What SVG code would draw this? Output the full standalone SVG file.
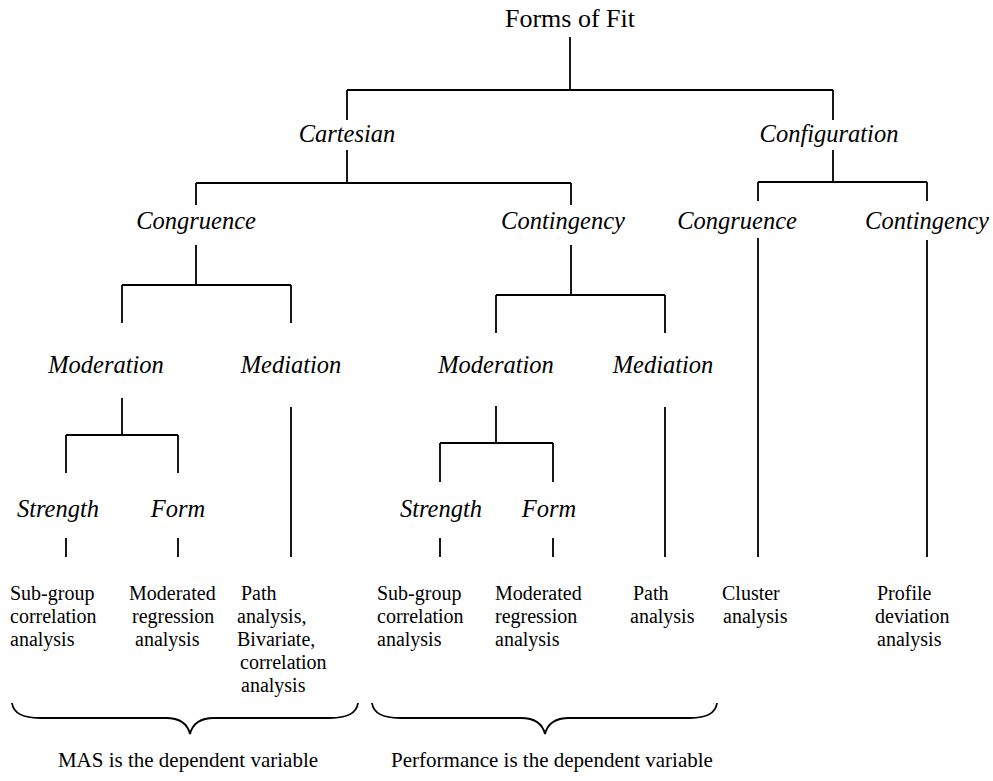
<svg xmlns="http://www.w3.org/2000/svg" width="993" height="781" viewBox="0 0 993 781">
<style>
text{font-family:"Liberation Serif","Times New Roman",serif;fill:#000}
.t{font-size:26px;text-anchor:middle}
.i{font-size:24.5px;font-style:italic;text-anchor:middle}
.l{font-size:20px}
.b{font-size:21px;text-anchor:middle}
#conn path{fill:none;stroke:#000;stroke-width:1.8}
</style>
<rect width="993" height="781" fill="#fff"/>
<g id="conn">
<path d="M570,37V90M347,90H833M347,90V120M833,90V120"/>
<path d="M347,150V183M196,183H571M196,183V205M571,183V205"/>
<path d="M833,150V182M758,182H927M758,182V201M927,182V201"/>
<path d="M758,238V557M927,240V557"/>
<path d="M196,245V285M122,285H291M122,285V323M291,285V323"/>
<path d="M571,245V295M496,295H665M496,295V333M665,295V333"/>
<path d="M122,398V435M66,435H178M66,435V473M178,435V473"/>
<path d="M496,406V443M440,443H553M440,443V482M553,443V482"/>
<path d="M66,538V557M178,538V557M440,538V557M553,538V557"/>
<path d="M291,407V557M665,407V557"/>
<path d="M12,703Q14,718 40,718L166,718Q186,718 190,734Q194,718 214,718L330,718Q356,718 358,703"/>
<path d="M372,703Q374,718 400,718L521,718Q541,718 545,734Q549,718 569,718L690,718Q715,718 717,703"/>
</g>
<g id="n-root"><text class="t" x="570" y="27">Forms of Fit</text></g>
<g id="n-cartesian"><text class="i" x="347" y="142">Cartesian</text></g>
<g id="n-configuration"><text class="i" x="829" y="142">Configuration</text></g>
<g id="n-cong1"><text class="i" x="196" y="229">Congruence</text></g>
<g id="n-cont1"><text class="i" x="563" y="229">Contingency</text></g>
<g id="n-cong2"><text class="i" x="737" y="229">Congruence</text></g>
<g id="n-cont2"><text class="i" x="927" y="229">Contingency</text></g>
<g id="n-mod1"><text class="i" x="106" y="373">Moderation</text></g>
<g id="n-med1"><text class="i" x="291" y="373">Mediation</text></g>
<g id="n-mod2"><text class="i" x="496" y="373">Moderation</text></g>
<g id="n-med2"><text class="i" x="663" y="373">Mediation</text></g>
<g id="n-str1"><text class="i" x="58" y="517">Strength</text></g>
<g id="n-form1"><text class="i" x="178" y="517">Form</text></g>
<g id="n-str2"><text class="i" x="441" y="517">Strength</text></g>
<g id="n-form2"><text class="i" x="549" y="517">Form</text></g>
<g id="n-a1"><text class="l" y="600"><tspan x="10">Sub-group</tspan><tspan x="10" y="623">correlation</tspan><tspan x="10" y="646">analysis</tspan></text></g>
<g id="n-a2"><text class="l" y="600"><tspan x="129">Moderated</tspan><tspan x="132" y="623">regression</tspan><tspan x="135" y="646">analysis</tspan></text></g>
<g id="n-a3"><text class="l" y="600"><tspan x="241">Path</tspan><tspan x="237" y="623">analysis,</tspan><tspan x="237" y="646">Bivariate,</tspan><tspan x="240" y="669">correlation</tspan><tspan x="241" y="692">analysis</tspan></text></g>
<g id="n-a4"><text class="l" y="600"><tspan x="377">Sub-group</tspan><tspan x="377" y="623">correlation</tspan><tspan x="377" y="646">analysis</tspan></text></g>
<g id="n-a5"><text class="l" y="600"><tspan x="495">Moderated</tspan><tspan x="495" y="623">regression</tspan><tspan x="495" y="646">analysis</tspan></text></g>
<g id="n-a6"><text class="l" y="600"><tspan x="633">Path</tspan><tspan x="630" y="623">analysis</tspan></text></g>
<g id="n-a7"><text class="l" y="600"><tspan x="722">Cluster</tspan><tspan x="723" y="623">analysis</tspan></text></g>
<g id="n-a8"><text class="l" y="600"><tspan x="877">Profile</tspan><tspan x="875" y="623">deviation</tspan><tspan x="877" y="646">analysis</tspan></text></g>
<g id="n-mas"><text class="b" x="188" y="767">MAS is the dependent variable</text></g>
<g id="n-perf"><text class="b" x="552" y="767">Performance is the dependent variable</text></g>
</svg>
